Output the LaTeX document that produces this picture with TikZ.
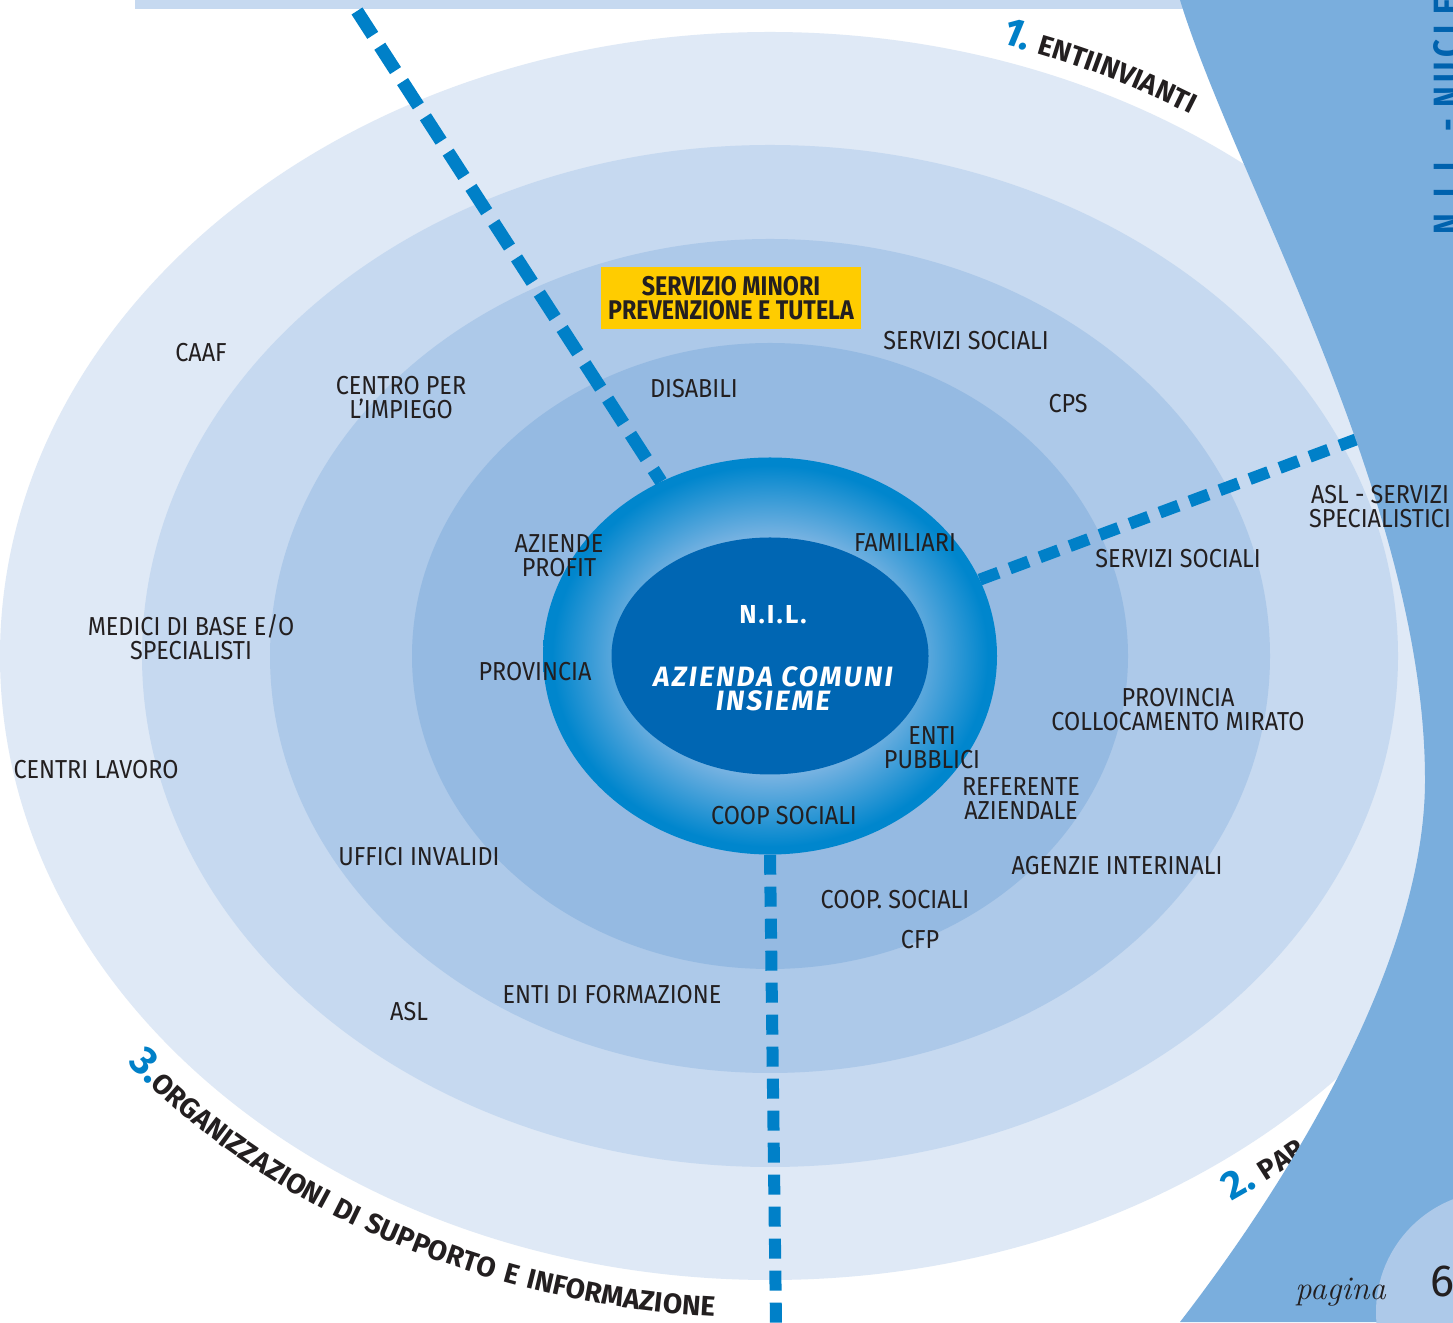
\documentclass[tikz,border=0pt]{standalone}
\usepackage{fontspec}
\newfontfamily\firaF{Fira Sans}
\newfontfamily\labF[FakeStretch=0.9]{Fira Sans}
\newfontfamily\boxF[FakeStretch=0.86]{Fira Sans}
\newfontfamily\arcF[LetterSpace=9]{Fira Sans}
\newfontfamily\nilF[LetterSpace=8]{Fira Sans}
\newfontfamily\sideF[LetterSpace=12,FakeStretch=0.82]{Fira Sans}
\usetikzlibrary{shapes.geometric,decorations.text}
\definecolor{ringA}{HTML}{DFE9F6}
\definecolor{ringB}{HTML}{C6D9F0}
\definecolor{ringC}{HTML}{ADC9E9}
\definecolor{ringD}{HTML}{95BAE2}
\definecolor{sideblue}{HTML}{7AAEDD}
\definecolor{dashblue}{HTML}{0080C8}
\definecolor{coreblue}{HTML}{0066B3}
\definecolor{edgeblue}{HTML}{0086CD}
\definecolor{lightring}{HTML}{86B8E4}
\definecolor{ybox}{HTML}{FFCC00}
\definecolor{txt}{HTML}{231F20}
\definecolor{titleblue}{HTML}{0062AE}
\pgfdeclareradialshading{ringshade}{\pgfpoint{0bp}{0bp}}{color(0bp)=(lightring); color(14bp)=(lightring); color(24bp)=(edgeblue); color(25bp)=(edgeblue); color(50bp)=(edgeblue)}
\newcommand\numTxt{\firaF\bfseries\fontsize{40}{40}\selectfont\color{dashblue}}
\newcommand\numTxtI{\firaF\bfseries\itshape\fontsize{40}{40}\selectfont\color{dashblue}}
\newcommand\arcTxt{\arcF\bfseries\fontsize{28}{28}\selectfont\color{txt}}
\begin{document}
\begin{tikzpicture}[x=1pt,y=1pt,
  lbl/.style={font=\labF\fontsize{26}{24}\selectfont, text=txt, align=center, inner sep=0pt},
  dashlong/.style={draw=dashblue, line width=13pt, dash pattern=on 29pt off 13pt},
  dashmid/.style={draw=dashblue, line width=12pt, dash pattern=on 20pt off 12pt},
  dashshort/.style={draw=dashblue, line width=12pt, dash pattern=on 20pt off 12pt}]
\useasboundingbox (0,0) rectangle (1453,1322);
\begin{scope}
\clip (0,0) rectangle (1453,1322);
\fill[white] (0,0) rectangle (1453,1322);
\fill[ringB] (135,1313) rectangle (1260,1322);
\fill[ringA] (770,666) ellipse [x radius=770pt, y radius=624pt];
\fill[ringB] (770,666) ellipse [x radius=628pt, y radius=511pt];
\fill[ringC] (770,666) ellipse [x radius=500pt, y radius=417pt];
\fill[ringD] (770,666) ellipse [x radius=358pt, y radius=313pt];
\node[ellipse, minimum width=454pt, minimum height=397pt, inner sep=0pt, shading=ringshade] (ring) at (770,666) {};
\node[ellipse, fill=coreblue, minimum width=317pt, minimum height=237pt, inner sep=0pt] (core) at (770,666) {};
\coordinate (t1) at (357,1311);
\coordinate (t2) at (1368,887);
\coordinate (t3) at (776,-2);
\draw[dashlong] (t1) -- (ring.122);
\draw[dashmid] (ring.20) -- (t2);
\draw[dashshort] (ring.south) -- (t3);
% curved text 2 (partly hidden)
\path[decorate, decoration={text along path, text={|\numTxt|2. |\arcTxt|PAR}}]
  (770,666) ++(304.5:815pt and 662pt) arc[start angle=304.5, end angle=340, x radius=815pt, y radius=662pt];
% right blue band
\fill[sideblue] (1180,1322) .. controls (1235,1142) and (1425,822) .. (1425,542)
  .. controls (1425,372) and (1305,162) .. (1180,0) -- (1453,0) -- (1453,1322) -- cycle;
\fill[ringC] (1497,10) circle[radius=121pt];
% yellow box
\node[fill=ybox, minimum width=260pt, minimum height=62pt, inner sep=0pt, align=center,
  font=\boxF\bfseries\fontsize{27}{24}\selectfont, text=txt] (minori) at (731,1024)
  {SERVIZIO MINORI\\PREVENZIONE E TUTELA};
% labels
\node[lbl] (ss1) at (966,981) {SERVIZI SOCIALI};
\node[lbl] (cps) at (1068,918) {CPS};
\node[lbl] (dis) at (694,933) {DISABILI};
\node[lbl] (caaf) at (201,969) {CAAF};
\node[lbl] (cpi) at (401,924) {CENTRO PER\\L’IMPIEGO};
\node[lbl] (az) at (559,766) {AZIENDE\\PROFIT};
\node[lbl] (fam) at (905,779) {FAMILIARI};
\node[lbl] (asl1) at (1380,815) {ASL - SERVIZI\\SPECIALISTICI};
\node[lbl] (ss2) at (1178,763) {SERVIZI SOCIALI};
\node[lbl] (med) at (191,685) {MEDICI DI BASE E/O\\SPECIALISTI};
\node[lbl] (prov1) at (535,650) {PROVINCIA};
\node[lbl] (prov2) at (1178,612) {PROVINCIA\\COLLOCAMENTO MIRATO};
\node[lbl] (enti) at (932,574) {ENTI\\PUBBLICI};
\node[lbl] (cl) at (96,552) {CENTRI LAVORO};
\node[lbl] (ref) at (1021,523) {REFERENTE\\AZIENDALE};
\node[lbl] (coop1) at (784,506) {COOP SOCIALI};
\node[lbl] (uff) at (419,465) {UFFICI INVALIDI};
\node[lbl] (agz) at (1117,456) {AGENZIE INTERINALI};
\node[lbl] (coop2) at (895,422) {COOP. SOCIALI};
\node[lbl] (cfp) at (920,382) {CFP};
\node[lbl] (edf) at (612,327) {ENTI DI FORMAZIONE};
\node[lbl] (asl2) at (409,310) {ASL};
% centre
\node[text=white, inner sep=0pt, font=\nilF\bfseries\fontsize{26}{24}\selectfont] (nil) at (773,707) {N.I.L.};
\node[text=white, inner sep=0pt, align=center, font=\nilF\bfseries\itshape\fontsize{28}{24}\selectfont] (aci) at (773,633) {AZIENDA COMUNI\\INSIEME};
% curved texts
\path[decorate, decoration={text along path, text={|\numTxtI|1. |\arcTxt|ENTIINVIANTI}}]
  (770,666) ++(73:790pt and 640pt) arc[start angle=73, end angle=35, x radius=790pt, y radius=640pt];
\path[decorate, decoration={text along path, text={|\numTxt|3.|\arcTxt|ORGANIZZAZIONI DI SUPPORTO E INFORMAZIONE}}]
  (770,666) ++(218:815pt and 662pt) arc[start angle=218, end angle=290, x radius=815pt, y radius=662pt];
% side title
\node[rotate=90, anchor=base west, inner sep=0pt, text=titleblue, font=\sideF\bfseries\fontsize{38}{38}\selectfont] (side) at (1460,1087) {N.I.L. - NUCLEO};
% page
\node[anchor=base west, inner sep=0pt, font=\itshape\fontsize{33}{33}\selectfont, text=txt] (pag) at (1295,23) {pagina};
\node[anchor=base west, inner sep=0pt, font=\firaF\fontsize{45}{45}\selectfont, text=txt] (num) at (1430,26) {6};
\end{scope}
\end{tikzpicture}
\end{document}
